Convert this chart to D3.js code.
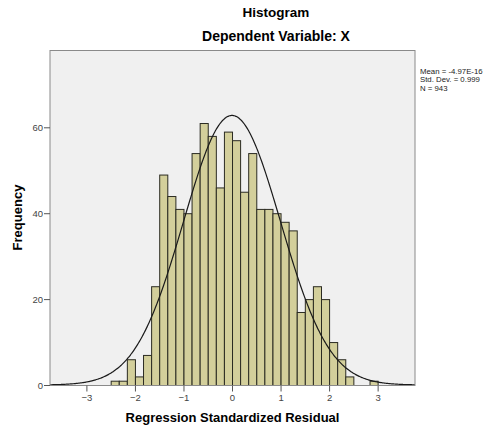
<!DOCTYPE html>
<html>
<head>
<meta charset="utf-8">
<script src="https://cdn.jsdelivr.net/npm/d3@7"></script>
<style>
  body { margin: 0; background: #fff; }
  svg { display: block; font-family: Arial, "Liberation Sans", sans-serif; }
</style>
</head>
<body>
<div id="chart"></div>
<script>
// histogram data
const binStart = -2.5;
const binWidth = 1 / 6;
const counts = [1, 1, 6, 2, 7, 23, 49, 44, 41, 40, 54, 61, 58, 46, 59, 57, 45,
                54, 41, 41, 40, 38, 36, 17, 20, 23, 20, 10, 6, 2, 0, 0, 1];
const xTicks = [-3, -2, -1, 0, 1, 2, 3];
const yTicks = [0, 20, 40, 60];
const stats = {mean: -4.97e-16, sd: 0.999, n: 943};
const statLines = ["Mean = -4.97E-16", "Std. Dev. = 0.999", "N = 943"];

const width = 499, height = 434;
const plot = {left: 50, right: 415, top: 50, bottom: 385};

const svg = d3.select('#chart').append('svg')
  .attr('width', width)
  .attr('height', height);

const x = d3.scaleLinear().domain([-3.75, 3.77]).range([plot.left, plot.right]);
const y = d3.scaleLinear().domain([0, 78]).range([plot.bottom, plot.top]);

// plot background
svg.append('rect')
  .attr('x', plot.left).attr('y', plot.top)
  .attr('width', plot.right - plot.left).attr('height', plot.bottom - plot.top)
  .attr('fill', '#f0f0f0');

const bins = counts.map((c, i) => ({x0: binStart + i * binWidth, x1: binStart + (i + 1) * binWidth, count: c}))
  .filter(d => d.count > 0);

svg.append('g')
  .selectAll('rect')
  .data(bins)
  .join('rect')
  .attr('x', d => x(d.x0) + 0.5)
  .attr('y', d => y(d.count) + 0.5)
  .attr('width', d => x(d.x1) - x(d.x0))
  .attr('height', d => y(0) - y(d.count))
  .attr('fill', '#d3cf9b')
  .attr('stroke', '#2b2b22')
  .attr('stroke-width', 1);

// fitted normal curve
const pdf = v => Math.exp(-0.5 * Math.pow((v - stats.mean) / stats.sd, 2)) / (stats.sd * Math.sqrt(2 * Math.PI));
const curveX = d3.range(-3.75, 3.771, 0.02);
const line = d3.line()
  .x(d => x(d))
  .y(d => y(stats.n * binWidth * pdf(d)))
  .curve(d3.curveBasis);

svg.append('path')
  .datum(curveX)
  .attr('d', line)
  .attr('fill', 'none')
  .attr('stroke', '#1a1a1a')
  .attr('stroke-width', 1.2);

// frame
svg.append('rect')
  .attr('x', plot.left).attr('y', plot.top + 0.5)
  .attr('width', plot.right - plot.left).attr('height', plot.bottom - plot.top)
  .attr('fill', 'none')
  .attr('stroke', '#8a8a8a')
  .attr('stroke-width', 1);

// axes
const xAxis = svg.append('g')
  .attr('transform', `translate(0,${plot.bottom + 0.5})`)
  .call(d3.axisBottom(x).tickValues(xTicks).tickSize(6).tickPadding(3));
const yAxis = svg.append('g')
  .attr('transform', `translate(${plot.left},0)`)
  .call(d3.axisLeft(y).tickValues(yTicks).tickSize(6).tickPadding(1));

[xAxis, yAxis].forEach(a => {
  a.select('.domain').remove();
  a.selectAll('line').attr('stroke', '#555');
  a.selectAll('text').attr('fill', '#444').style('font-size', '9.5px').style('font-family', 'Arial, "Liberation Sans", sans-serif');
});

// titles
svg.append('text')
  .attr('x', 276).attr('y', 17)
  .attr('text-anchor', 'middle')
  .attr('font-weight', 'bold')
  .attr('font-size', 13.5)
  .text('Histogram');

svg.append('text')
  .attr('x', 276).attr('y', 41)
  .attr('text-anchor', 'middle')
  .attr('font-weight', 'bold')
  .attr('font-size', 14)
  .text('Dependent Variable: X');

svg.append('text')
  .attr('transform', `translate(22,${(plot.top + plot.bottom) / 2}) rotate(-90)`)
  .attr('text-anchor', 'middle')
  .attr('font-weight', 'bold')
  .attr('font-size', 13)
  .text('Frequency');

svg.append('text')
  .attr('x', (plot.left + plot.right) / 2).attr('y', 422)
  .attr('text-anchor', 'middle')
  .attr('font-weight', 'bold')
  .attr('font-size', 13)
  .text('Regression Standardized Residual');

// stats box
svg.append('g')
  .selectAll('text')
  .data(statLines)
  .join('text')
  .attr('x', 420)
  .attr('y', (d, i) => 73.5 + i * 8.6)
  .attr('font-size', 7.8)
  .attr('fill', '#222')
  .text(d => d);
</script>
</body>
</html>
